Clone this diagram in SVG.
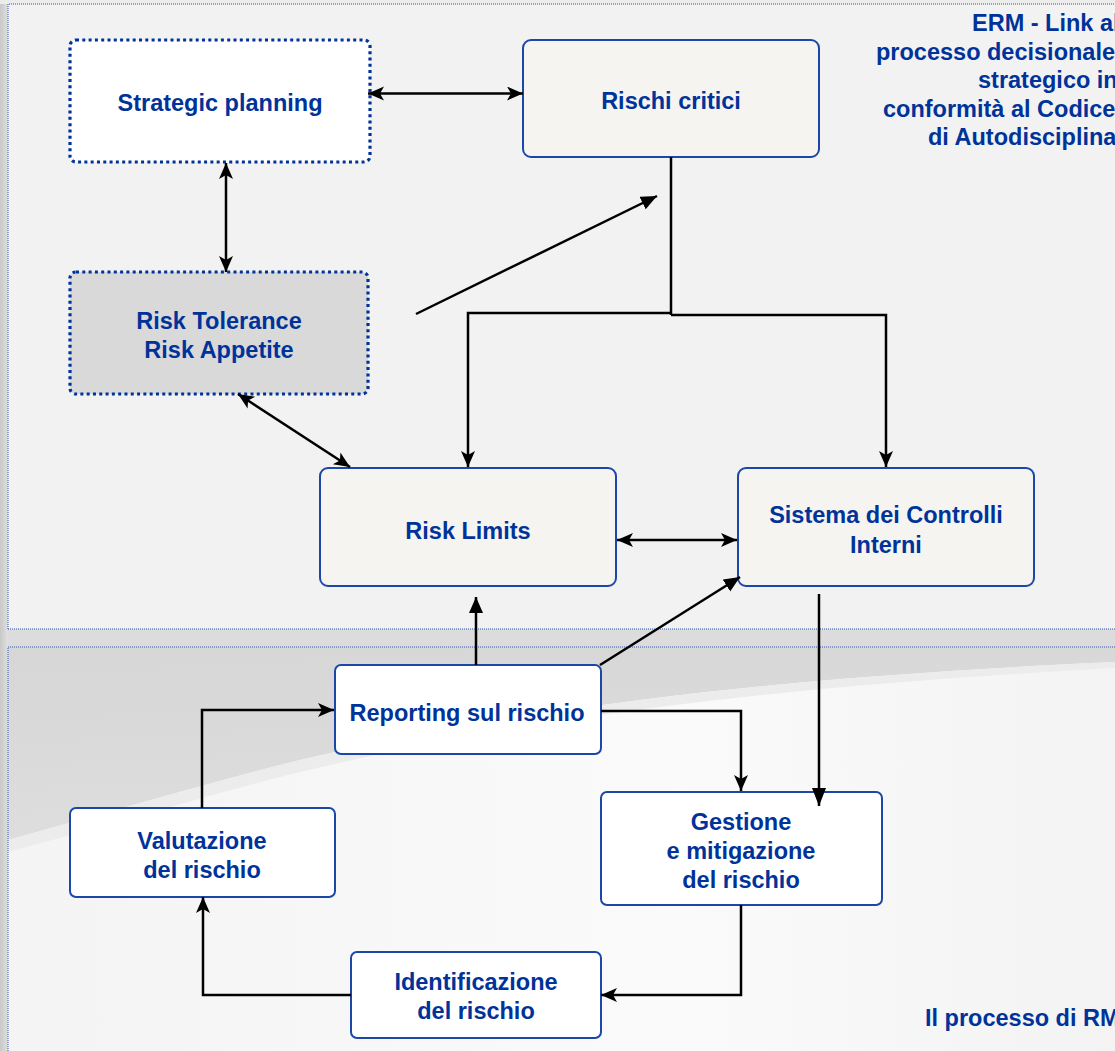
<svg xmlns="http://www.w3.org/2000/svg" width="1115" height="1051" viewBox="0 0 1115 1051">
<style>
.t{font-family:"Liberation Sans",Arial,sans-serif;font-weight:bold;font-size:23.5px;fill:#003399}
.c{text-anchor:middle}
.box{fill:#f5f4f1;stroke:#1a47a8;stroke-width:2}
.wbox{fill:#ffffff;stroke:#1a47a8;stroke-width:2}
.dot{stroke:#003399;stroke-width:3.2;stroke-dasharray:3 3.3}
.ln{fill:none;stroke:#000;stroke-width:2.5}
.panel{stroke:#3355aa;stroke-width:1;stroke-dasharray:1 1}
</style>
<defs>
<marker id="st" markerUnits="userSpaceOnUse" markerWidth="18" markerHeight="16" refX="16" refY="7" orient="auto-start-reverse"><path d="M0,0 L16,7 L0,14 L4,7 Z" fill="#000"/></marker>
<marker id="tri" markerUnits="userSpaceOnUse" markerWidth="18" markerHeight="16" refX="16" refY="7" orient="auto"><path d="M0,0 L16,7 L0,14 Z" fill="#000"/></marker>
<marker id="tri2" markerUnits="userSpaceOnUse" markerWidth="20" markerHeight="16" refX="18" refY="7" orient="auto"><path d="M0,0 L18,7 L0,14 Z" fill="#000"/></marker>
<linearGradient id="leftg" x1="0" y1="0" x2="1" y2="0"><stop offset="0" stop-color="#c8c8c8"/><stop offset="1" stop-color="#e0e0e0"/></linearGradient>
<linearGradient id="swoosh" x1="0" y1="0" x2="0.3" y2="1"><stop offset="0" stop-color="#d6d6d6"/><stop offset="1" stop-color="#dedede"/></linearGradient>
<linearGradient id="lowg" x1="0" y1="0" x2="1" y2="0"><stop offset="0" stop-color="#f4f4f4"/><stop offset="0.6" stop-color="#fafafa"/><stop offset="1" stop-color="#f3f3f3"/></linearGradient>
</defs>
<g id="background">
<rect x="0" y="0" width="1115" height="1051" fill="#dcdcdc"/>
<rect x="0" y="0" width="8" height="1051" fill="url(#leftg)"/>
<rect x="0" y="0" width="1115" height="4" fill="#ececec"/>
<rect x="8" y="4" width="1120" height="625" fill="#f2f2f2"/>
<path class="panel" d="M8,629 V4 H1115 M8,629 H1115" fill="none"/>
<rect x="8" y="647" width="1120" height="410" fill="url(#lowg)"/>
<path d="M8,647 H1115 V662 C900,672 600,690 300,760 C200,785 100,815 8,840 Z" fill="url(#swoosh)"/>
<path d="M8,840 C100,815 200,785 300,760 C600,690 900,672 1115,662 L1115,668 C900,680 600,700 300,772 C200,797 100,828 8,852 Z" fill="#ececec"/>
<path class="panel" d="M8,1051 V647 H1115" fill="none"/>
</g>
<g id="title">
<text class="t" x="972" y="31">ERM - Link al</text>
<text class="t" x="876" y="59.5">processo decisionale</text>
<text class="t" x="978" y="88">strategico in</text>
<text class="t" x="883" y="116.5">conformità al Codice</text>
<text class="t" x="928" y="145">di Autodisciplina</text>
</g>
<g id="footer"><text class="t" x="925" y="1026">Il processo di RM</text></g>
<g id="strategic-planning">
<rect class="dot" x="70" y="40" width="300" height="122" rx="6" fill="#ffffff"/>
<text class="t c" x="220" y="110.5">Strategic planning</text>
</g>
<g id="rischi-critici">
<rect class="box" x="523" y="40" width="296" height="117" rx="8"/>
<text class="t c" x="671" y="108.5">Rischi critici</text>
</g>
<g id="risk-tolerance">
<rect class="dot" x="70" y="272" width="298" height="122" rx="6" fill="#d9d9d9"/>
<text class="t c" x="219" y="328.5">Risk Tolerance</text>
<text class="t c" x="219" y="358">Risk Appetite</text>
</g>
<g id="risk-limits">
<rect class="box" x="320" y="468" width="296" height="118" rx="8"/>
<text class="t c" x="468" y="538.5">Risk Limits</text>
</g>
<g id="sistema-controlli">
<rect class="box" x="738" y="468" width="296" height="118" rx="8"/>
<text class="t c" x="886" y="522.5">Sistema dei Controlli</text>
<text class="t c" x="886" y="552.5">Interni</text>
</g>
<g id="reporting">
<rect class="wbox" x="335" y="665" width="266" height="89" rx="6"/>
<text class="t c" x="467" y="720.5">Reporting sul rischio</text>
</g>
<g id="valutazione">
<rect class="wbox" x="70" y="808" width="265" height="89" rx="6"/>
<text class="t c" x="202" y="848.5">Valutazione</text>
<text class="t c" x="202" y="877.5">del rischio</text>
</g>
<g id="gestione">
<rect class="wbox" x="601" y="792" width="281" height="113" rx="6"/>
<text class="t c" x="741" y="829.5">Gestione</text>
<text class="t c" x="741" y="858.5">e mitigazione</text>
<text class="t c" x="741" y="887.5">del rischio</text>
</g>
<g id="identificazione">
<rect class="wbox" x="351" y="952" width="250" height="86" rx="6"/>
<text class="t c" x="476" y="990">Identificazione</text>
<text class="t c" x="476" y="1018.5">del rischio</text>
</g>
<g id="connectors">
<path class="ln" d="M368,93.5 H523" marker-start="url(#st)" marker-end="url(#st)"/>
<path class="ln" d="M226,163 V272" marker-start="url(#st)" marker-end="url(#st)"/>
<path class="ln" d="M416,314 L657,196" marker-end="url(#tri)"/>
<path class="ln" d="M671,157 V315"/>
<path class="ln" d="M671,313 H468 V467" marker-end="url(#st)"/>
<path class="ln" d="M671,315 H886 V467" marker-end="url(#st)"/>
<path class="ln" d="M238,394 L350,467" marker-start="url(#st)" marker-end="url(#st)"/>
<path class="ln" d="M617,540 H737" marker-start="url(#st)" marker-end="url(#st)"/>
<path class="ln" d="M476,665 V597" marker-end="url(#tri)"/>
<path class="ln" d="M600,665 L740,577" marker-end="url(#tri)"/>
<path class="ln" d="M819,594 V806" marker-end="url(#tri2)"/>
<path class="ln" d="M601,711 H741 V791" marker-end="url(#st)"/>
<path class="ln" d="M741,905 V995 H601" marker-end="url(#st)"/>
<path class="ln" d="M351,995 H203 V897" marker-end="url(#st)"/>
<path class="ln" d="M202,808 V710 H334" marker-end="url(#st)"/>
</g>
</svg>
